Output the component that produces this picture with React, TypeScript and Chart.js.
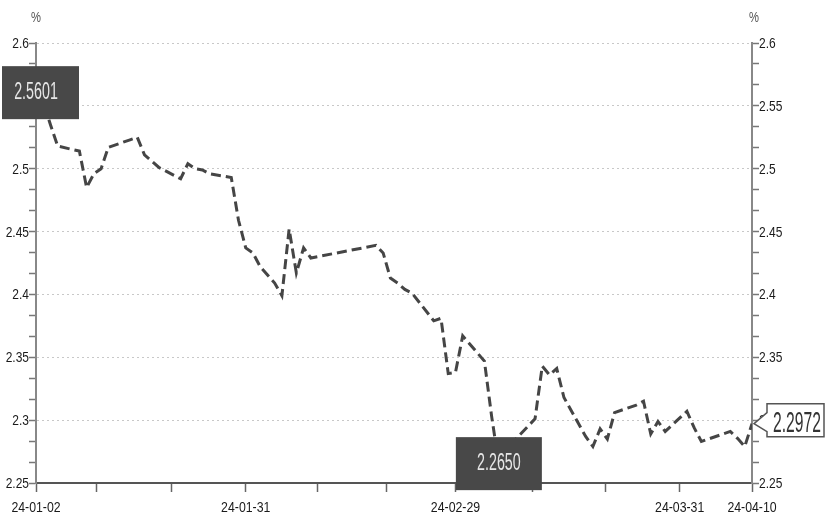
import React, { useEffect, useRef } from 'react';
import { Chart, registerables } from 'chart.js';

Chart.register(...registerables);

const dates = [
  '2024-01-02', '2024-01-03', '2024-01-04', '2024-01-05',
  '2024-01-08', '2024-01-09', '2024-01-10', '2024-01-11', '2024-01-12',
  '2024-01-15', '2024-01-16', '2024-01-17', '2024-01-18', '2024-01-19',
  '2024-01-22', '2024-01-23', '2024-01-24', '2024-01-25', '2024-01-26',
  '2024-01-29', '2024-01-30', '2024-01-31', '2024-02-01', '2024-02-02',
  '2024-02-04', '2024-02-05', '2024-02-06', '2024-02-07', '2024-02-08', '2024-02-09',
  '2024-02-18', '2024-02-19', '2024-02-20', '2024-02-21', '2024-02-22', '2024-02-23',
  '2024-02-26', '2024-02-27', '2024-02-28', '2024-02-29', '2024-03-01',
  '2024-03-04', '2024-03-05', '2024-03-06', '2024-03-07', '2024-03-08',
  '2024-03-11', '2024-03-12', '2024-03-13', '2024-03-14', '2024-03-15',
  '2024-03-18', '2024-03-19', '2024-03-20', '2024-03-21', '2024-03-22',
  '2024-03-25', '2024-03-26', '2024-03-27', '2024-03-28', '2024-03-29',
  '2024-04-01', '2024-04-02', '2024-04-03',
  '2024-04-07', '2024-04-08', '2024-04-09', '2024-04-10',
];

const yields = [
  2.5601, 2.553, 2.535, 2.518,
  2.514, 2.485, 2.496, 2.5, 2.517,
  2.523, 2.525, 2.511, 2.506, 2.501,
  2.492, 2.504, 2.5, 2.499, 2.496,
  2.493, 2.459, 2.437, 2.433, 2.422,
  2.409, 2.399, 2.452, 2.417, 2.437, 2.429,
  2.439, 2.433, 2.413, 2.409, 2.404, 2.401,
  2.379, 2.381, 2.337, 2.338, 2.367,
  2.347, 2.303, 2.265, 2.275, 2.283,
  2.301, 2.343, 2.336, 2.341, 2.318,
  2.287, 2.279, 2.293, 2.285, 2.306,
  2.312, 2.315, 2.289, 2.299, 2.291,
  2.307, 2.294, 2.283,
  2.291, 2.2855, 2.279, 2.2972,
];

const yMajorTicks = [2.25, 2.3, 2.35, 2.4, 2.45, 2.5, 2.55, 2.6];
const yTickLabels = ['2.25', '2.3', '2.35', '2.4', '2.45', '2.5', '2.55', '2.6'];

// x ticks in days after 2024-01-02
const xTickDays = [0, 8.4, 18.7, 29, 38.9, 48.5, 58, 68.6, 78.8, 89, 99];
const xTickLabels = ['24-01-02', '', '', '24-01-31', '', '', '24-02-29', '', '', '24-03-31', '24-04-10'];

const unitLabel = '%';
const highlightDates = ['2024-01-02', '2024-03-06'];
const highlightValues = [2.5601, 2.265];
const highlightTexts = ['2.5601', '2.2650'];
const lastDate = '2024-04-10';
const lastValue = 2.2972;
const lastText = '2.2972';

const FONT = "'Liberation Sans', Arial, sans-serif";
const DAY = 86400000;
const BASE = Date.UTC(2024, 0, 2);
const toDay = (s: string) => {
  const [y, m, d] = s.split('-').map(Number);
  return (Date.UTC(y, m - 1, d) - BASE) / DAY;
};

const isMajor = (v: number) => yMajorTicks.some((m) => Math.abs(m - v) < 1e-6);

const yTicksAll: number[] = [];
for (let i = 0; i < yMajorTicks.length; i++) {
  yTicksAll.push(yMajorTicks[i]);
  if (i < yMajorTicks.length - 1) {
    const step = (yMajorTicks[i + 1] - yMajorTicks[i]) / 3;
    yTicksAll.push(yMajorTicks[i] + step, yMajorTicks[i] + 2 * step);
  }
}

function drawSqueezed(
  ctx: CanvasRenderingContext2D,
  text: string,
  x: number,
  baseline: number,
  size: number,
  sx: number,
  color: string,
  align: CanvasTextAlign = 'center'
) {
  ctx.save();
  ctx.translate(x, baseline);
  ctx.scale(sx, 1);
  ctx.font = `${size}px ${FONT}`;
  ctx.fillStyle = color;
  ctx.textAlign = align;
  ctx.textBaseline = 'alphabetic';
  ctx.fillText(text, 0, 0);
  ctx.restore();
}

const overlayPlugin = {
  id: 'overlay',
  afterDraw(chart: any) {
    const ctx: CanvasRenderingContext2D = chart.ctx;
    const x = chart.scales.x;
    const y = chart.scales.y;
    const y2 = chart.scales.y2;
    ctx.save();

    // axis tick labels (narrow text, positioned from the scales)
    y.ticks.forEach((t: any) => {
      if (!t.label) return;
      drawSqueezed(ctx, String(t.label), y.right - 7, y.getPixelForValue(t.value) + 5, 15, 0.8, '#1a1a1a', 'right');
    });
    y2.ticks.forEach((t: any) => {
      if (!t.label) return;
      drawSqueezed(ctx, String(t.label), y2.left + 7, y2.getPixelForValue(t.value) + 5, 15, 0.8, '#1a1a1a', 'left');
    });
    x.ticks.forEach((t: any) => {
      if (!t.label) return;
      drawSqueezed(ctx, String(t.label), x.getPixelForValue(t.value), x.top + 29, 15, 0.82, '#1a1a1a', 'center');
    });

    drawSqueezed(ctx, unitLabel, y.right, 22, 14, 0.8, '#555', 'center');
    drawSqueezed(ctx, unitLabel, y2.left + 2, 22, 14, 0.8, '#555', 'center');

    highlightDates.forEach((d, i) => {
      const px = x.getPixelForValue(toDay(d));
      const py = y.getPixelForValue(highlightValues[i]);
      const left = Math.max(2, px - 43);
      const right = px + 43;
      ctx.fillStyle = '#484848';
      ctx.fillRect(left, py - 27, right - left, 53);
      drawSqueezed(ctx, highlightTexts[i], px, py + 6, 23, 0.62, '#e6e6e6');
    });

    const lx = x.getPixelForValue(toDay(lastDate));
    const ly = y.getPixelForValue(lastValue);
    const bl = lx + 15;
    const br = lx + 72;
    const bt = ly - 20;
    const bb = ly + 13;
    ctx.beginPath();
    ctx.moveTo(bl, bt);
    ctx.lineTo(br, bt);
    ctx.lineTo(br, bb);
    ctx.lineTo(bl, bb);
    ctx.lineTo(bl, ly + 8);
    ctx.lineTo(lx + 2, ly);
    ctx.lineTo(bl, ly - 11);
    ctx.closePath();
    ctx.fillStyle = '#ffffff';
    ctx.fill();
    ctx.strokeStyle = '#555';
    ctx.lineWidth = 1.5;
    ctx.stroke();
    drawSqueezed(ctx, lastText, bl + 30, ly + 8, 29, 0.54, '#333');
    ctx.restore();
  },
};

function yAxis(position: 'left' | 'right', onArea: boolean, width: number) {
  return {
    type: 'linear' as const,
    position,
    min: 2.25,
    max: 2.6,
    afterBuildTicks: (s: any) => {
      s.ticks = yTicksAll.map((v) => ({ value: v }));
    },
    afterFit: (s: any) => {
      s.width = width;
    },
    ticks: {
      autoSkip: false,
      padding: 1,
      color: 'rgba(0,0,0,0)',
      font: { family: FONT, size: 14 },
      callback: (v: any) => {
        const i = yMajorTicks.findIndex((m) => Math.abs(m - Number(v)) < 1e-6);
        return i >= 0 ? yTickLabels[i] : '';
      },
    },
    grid: {
      drawOnChartArea: onArea,
      color: (c: any) => (c.tick && isMajor(c.tick.value) ? '#c8c8c8' : 'rgba(0,0,0,0)'),
      lineWidth: 1,
      tickLength: 7,
      tickColor: '#777',
      tickWidth: 1.5,
    },
    border: { display: true, color: '#888', width: 2, dash: [2, 3] },
  };
}

export default function App() {
  const ref = useRef<HTMLCanvasElement | null>(null);
  useEffect(() => {
    if (!ref.current) return;
    const chart = new Chart(ref.current, {
      type: 'line',
      data: {
        datasets: [
          {
            data: dates.map((d, i) => ({ x: toDay(d), y: yields[i] })),
            borderColor: '#454545',
            borderWidth: 3,
            borderDash: [10, 5],
            pointRadius: 0,
            tension: 0,
            fill: false,
            yAxisID: 'y',
          },
        ],
      },
      options: {
        animation: false,
        responsive: false,
        maintainAspectRatio: false,
        layout: { padding: { top: 43, left: 0, right: 0, bottom: 0 } },
        plugins: { legend: { display: false }, tooltip: { enabled: false } },
        scales: {
          x: {
            type: 'linear',
            min: 0,
            max: 99,
            afterBuildTicks: (s: any) => {
              s.ticks = xTickDays.map((v) => ({ value: v }));
            },
            afterFit: (s: any) => {
              s.height = 36;
            },
            ticks: {
              autoSkip: false,
              maxRotation: 0,
              minRotation: 0,
              padding: 3,
              color: 'rgba(0,0,0,0)',
              font: { family: FONT, size: 14 },
              callback: (_v: any, i: number) => xTickLabels[i],
            },
            grid: { drawOnChartArea: false, drawTicks: true, tickLength: 9, tickColor: '#666', tickWidth: 1.5 },
            border: { color: '#555', width: 2 },
          },
          y: yAxis('left', true, 36),
          y2: yAxis('right', false, 86),
        },
      } as any,
      plugins: [overlayPlugin],
    });
    return () => chart.destroy();
  }, []);
  return (
    <div style={{ position: 'absolute', left: 0, top: 0, width: 838, height: 519, background: '#fff' }}>
      <canvas ref={ref} width={838} height={519} style={{ width: 838, height: 519 }} />
    </div>
  );
}
